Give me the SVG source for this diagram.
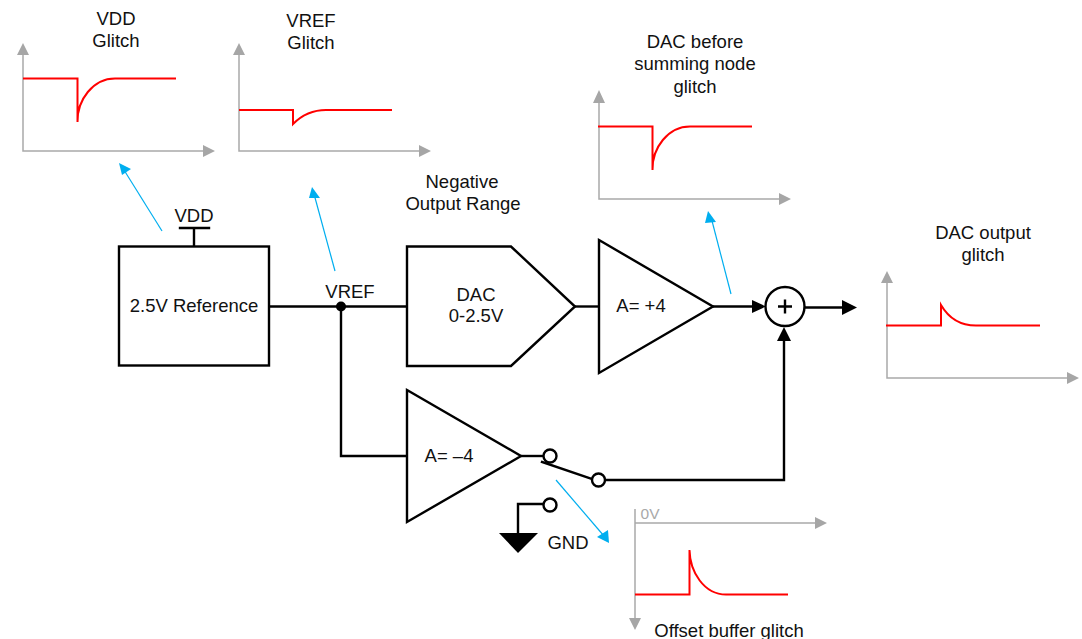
<svg xmlns="http://www.w3.org/2000/svg" width="1082" height="639" viewBox="0 0 1082 639">
<style>
text{font-family:"Liberation Sans",Arial,sans-serif;font-size:18.5px;fill:#111;text-anchor:middle}
.b{fill:none;stroke:#000;stroke-width:2.4;stroke-linecap:square}
.n{fill:#fff;stroke:#000;stroke-width:2.4;stroke-linejoin:miter}
.ax{fill:none;stroke:#a9a9a9;stroke-width:1.5}
.ah{fill:#a6a6a6}
.r{fill:none;stroke:#f00;stroke-width:2}
.bl{fill:none;stroke:#00aeef;stroke-width:1.2}
.bh{fill:#00aeef}
.k{fill:#000}
</style>
<rect width="1082" height="639" fill="#fff"/>
<g id="connectors">
<path class="b" d="M194 228V246M180 228H209"/>
<path class="b" d="M270 306.500H407M341 306.500V456H407"/>
<path class="b" d="M575 306.500H599"/>
<path class="b" d="M713 306.500H752"/>
<path class="k" d="M752 300L766 306.500L752 313Z"/>
<path class="b" d="M805 307.500H844"/>
<path class="k" d="M842 300L857 307.500L842 315Z"/>
<path class="b" d="M522 456H543"/>
<path class="b" d="M542 462L592 479"/>
<path class="b" d="M605 480H784V340"/>
<path class="k" d="M777 341L784 327L791 341Z"/>
<path class="b" d="M543 504H518V534"/>
<path class="k" d="M499 533H538L518 553Z"/>
<circle cx="341" cy="306.500" r="5" class="k"/>
</g>
<g id="blue-arrows">
<path class="bl" d="M162 231L124 170"/><path class="bh" d="M119 163L131 169L122 175Z"/>
<path class="bl" d="M335 271L314 194"/><path class="bh" d="M312 187L320 198L309 198Z"/>
<path class="bl" d="M731 294L711 217"/><path class="bh" d="M708 211L716 222L705 223Z"/>
<path class="bl" d="M556 480L604 536"/><path class="bh" d="M609 543L597 537L608 530Z"/>
</g>
<g id="reference"><rect class="n" x="119" y="246.500" width="150" height="119"/><text x="194" y="312">2.5V Reference</text></g>
<g id="vdd-label"><text x="194" y="222">VDD</text></g>
<g id="vref-label"><text x="350" y="298">VREF</text></g>
<g id="dac"><path class="n" d="M407 246.500H511L575 306.500L511 366H407Z"/><text x="476" y="301">DAC</text><text x="476" y="322">0-2.5V</text></g>
<g id="neg-range"><text x="462" y="188">Negative</text><text x="463" y="210">Output Range</text></g>
<g id="amp-plus"><path class="n" d="M599 240L713 306.500L599 373Z"/><text x="641" y="312">A= +4</text></g>
<g id="summer"><circle class="n" cx="785" cy="306.500" r="19.500"/><path d="M778 306.500H792M785 299.500V313.500" class="b" style="stroke-linecap:butt"/></g>
<g id="amp-minus"><path class="n" d="M407 390L521 456L407 522Z"/><text x="449" y="462">A= –4</text></g>
<g id="switch"><circle class="n" cx="550" cy="456" r="6.500"/><circle class="n" cx="598.500" cy="480" r="6.500"/><circle class="n" cx="550" cy="505" r="6.500"/><text x="568" y="549">GND</text></g>
<g id="vdd-plot">
<text x="116" y="25">VDD</text><text x="116" y="47">Glitch</text>
<path class="ax" d="M23 52V151H204"/><path class="ah" d="M17 55L23 43L29 55ZM203 145L215 151L203 157Z"/>
<path class="r" d="M23 78.500H77.500V122C77 100 93 78.500 115 78.500H176"/>
</g>
<g id="vref-plot">
<text x="311" y="27">VREF</text><text x="311" y="49">Glitch</text>
<path class="ax" d="M239 52V151H420"/><path class="ah" d="M233 55L239 43L245 55ZM419 145L431 151L419 157Z"/>
<path class="r" d="M239 110H293V124C302 115 312 110 326 110H392"/>
</g>
<g id="dac-plot">
<text x="695" y="48">DAC before</text><text x="695" y="70">summing node</text><text x="695" y="93">glitch</text>
<path class="ax" d="M599 99V199H780"/><path class="ah" d="M593 103L599 90L605 103ZM779 193L791 199L779 205Z"/>
<path class="r" d="M598 126.500H652.500V170C652 148 668 126.500 690 126.500H752"/>
</g>
<g id="output-plot">
<text x="983" y="239">DAC output</text><text x="983" y="261">glitch</text>
<path class="ax" d="M887 280V378H1068"/><path class="ah" d="M881 283L887 271L893 283ZM1067 372L1079 378L1067 384Z"/>
<path class="r" d="M886 325.500H941V305C948 317 960 325.500 976 325.500H1040"/>
</g>
<g id="offset-plot">
<text x="650" y="519" style="fill:#a9a9a9;font-size:15.5px">0V</text>
<path class="ax" d="M635 509V619M635 523H816"/><path class="ah" d="M815 517L827 523L815 529ZM629 618L635 630L641 618Z"/>
<path class="r" d="M635 594.500H689.500V550C690 572 704 594.500 726 594.500H788"/>
<text x="729" y="637">Offset buffer glitch</text>
</g>
</svg>
